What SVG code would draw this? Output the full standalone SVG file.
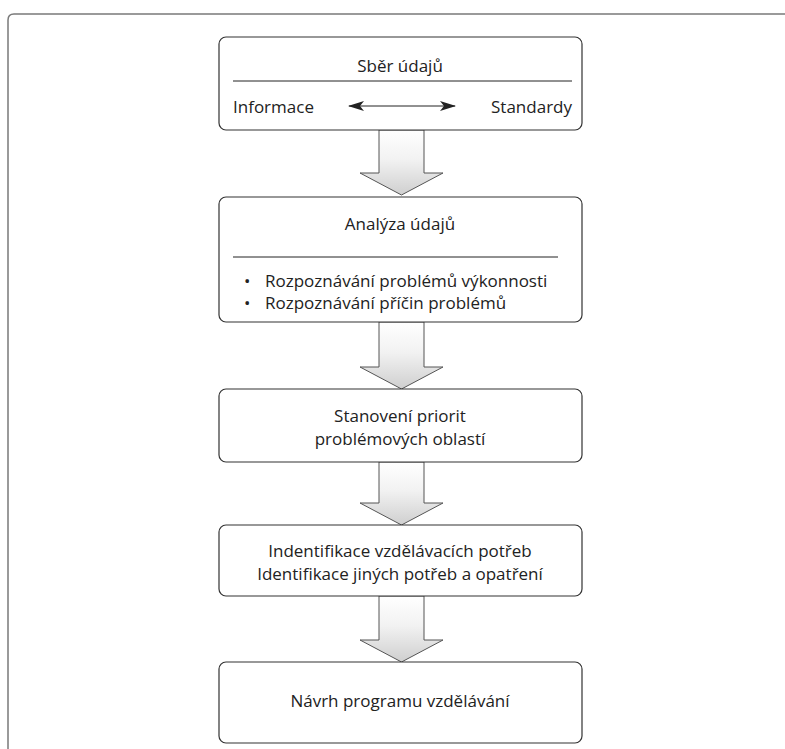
<svg xmlns="http://www.w3.org/2000/svg" width="785" height="749" viewBox="0 0 785 749">
  <defs>
    <linearGradient id="flowFill" x1="0" y1="0" x2="0" y2="1">
      <stop offset="0" stop-color="#ffffff"/>
      <stop offset="0.45" stop-color="#f2f2f2"/>
      <stop offset="1" stop-color="#cfcfcf"/>
    </linearGradient>
    <marker id="headEnd" viewBox="0 0 16 10" refX="15" refY="5" markerWidth="16" markerHeight="10" markerUnits="userSpaceOnUse" orient="auto">
      <path d="M0,0 L16,5 L0,10 L4,5 Z" fill="#222"/>
    </marker>
    <marker id="headStart" viewBox="0 0 16 10" refX="1" refY="5" markerWidth="16" markerHeight="10" markerUnits="userSpaceOnUse" orient="auto">
      <path d="M16,0 L0,5 L16,10 L12,5 Z" fill="#222"/>
    </marker>
  </defs>
  <style>
    .frame { fill: none; stroke: #7a7a7a; stroke-width: 1.5; }
    .box { fill: #ffffff; stroke: #333333; stroke-width: 1.2; }
    .rule { stroke: #222222; stroke-width: 1; }
    .flow { fill: url(#flowFill); stroke: #555555; stroke-width: 1; }
    text { font-family: "Open Sans", "Noto Sans", "DejaVu Sans", sans-serif; font-size: 17px; fill: #222222; }
    .mid { text-anchor: middle; }
    .end { text-anchor: end; }
  </style>

  <rect width="785" height="749" fill="#ffffff"/>

  <!-- outer frame: open at right and bottom -->
  <path class="frame" d="M8,749 L8,20 Q8,14 14,14 L785,14"/>

  <!-- block arrows between the stages -->
  <g id="connectors">
    <path class="flow" d="M379,130 L424,130 L424,173 L443,173 L401.5,195 L360,173 L379,173 Z"/>
    <path class="flow" d="M379,322 L424,322 L424,367 L443,367 L401.5,389 L360,367 L379,367 Z"/>
    <path class="flow" d="M379,462 L424,462 L424,503 L443,503 L401.5,525 L360,503 L379,503 Z"/>
    <path class="flow" d="M379,596 L424,596 L424,640 L443,640 L401.5,662 L360,640 L379,640 Z"/>
  </g>

  <g id="sber-udaju">
    <rect class="box" x="219" y="37" width="363" height="93" rx="7"/>
    <text class="mid" x="400" y="72">Sběr údajů</text>
    <line class="rule" x1="233" y1="81" x2="572" y2="81"/>
    <text x="233" y="113">Informace</text>
    <line class="rule" x1="349" y1="106" x2="455" y2="106" marker-start="url(#headStart)" marker-end="url(#headEnd)"/>
    <text class="end" x="572" y="113">Standardy</text>
  </g>

  <g id="analyza-udaju">
    <rect class="box" x="219" y="197" width="363" height="125" rx="7"/>
    <text class="mid" x="400" y="230">Analýza údajů</text>
    <line class="rule" x1="233" y1="257" x2="558" y2="257"/>
    <text x="244" y="287">•</text>
    <text x="265" y="287">Rozpoznávání problémů výkonnosti</text>
    <text x="244" y="309">•</text>
    <text x="265" y="309">Rozpoznávání příčin problémů</text>
  </g>

  <g id="stanoveni-priorit">
    <rect class="box" x="219" y="389" width="363" height="73" rx="7"/>
    <text class="mid" x="400" y="422">Stanovení priorit</text>
    <text class="mid" x="400" y="445">problémových oblastí</text>
  </g>

  <g id="identifikace-potreb">
    <rect class="box" x="219" y="525" width="363" height="71" rx="7"/>
    <text class="mid" x="400" y="557">Indentifikace vzdělávacích potřeb</text>
    <text class="mid" x="400" y="580">Identifikace jiných potřeb a opatření</text>
  </g>

  <g id="navrh-programu">
    <rect class="box" x="219" y="662" width="363" height="81" rx="7"/>
    <text class="mid" x="400" y="707">Návrh programu vzdělávání</text>
  </g>
</svg>
